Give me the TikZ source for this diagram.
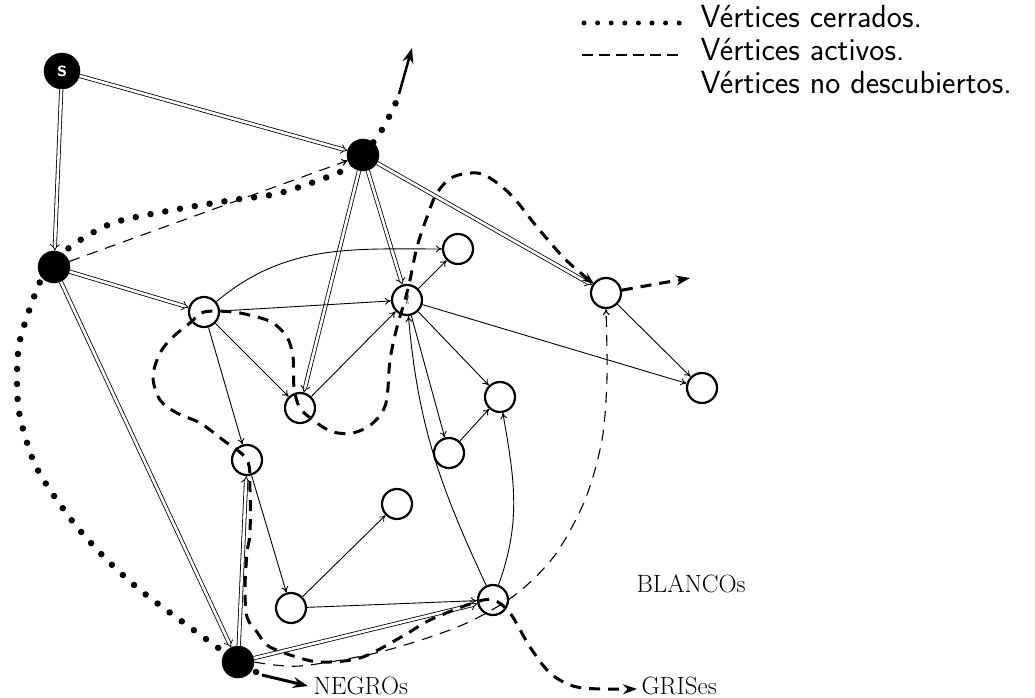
\documentclass[tikz,border=0pt]{standalone}
\usetikzlibrary{arrows.meta}
\begin{document}
\begin{tikzpicture}[x=1pt,y=1pt,
  wnode/.style={circle, draw, line width=2.2pt, minimum size=30pt, inner sep=0pt},
  bnode/.style={circle, fill=black, draw, line width=0.5pt, minimum size=32pt, inner sep=0pt},
  dbl/.style={double, double distance=2.6pt, line width=0.8pt, -{Implies}},
  arr/.style={line width=0.9pt, -{To[length=6pt,width=7pt]}},
  activeline/.style={line width=1.1pt, dash pattern=on 11pt off 8pt},
  grayline/.style={line width=3pt, dash pattern=on 11pt off 8pt},
  closedline/.style={line width=6.5pt, line cap=round, dash pattern=on 0pt off 15pt},
  legdot/.style={line width=5pt, line cap=round, dash pattern=on 0pt off 13.6pt},
  legdash/.style={line width=2.6pt, dash pattern=on 11pt off 6pt},
  bigtip/.style={-{Stealth[length=15pt,width=11pt]}},
  legtext/.style={anchor=base west, font=\sffamily\fontsize{32}{38}\selectfont},
  lbltext/.style={anchor=base west, font=\rmfamily\fontsize{25}{30}\selectfont}
]
\useasboundingbox (0,0) rectangle (1035,698);

% nodes
\node[bnode, minimum size=36pt] (s) at (62,627) {\textcolor{white}{\sffamily\bfseries\fontsize{22}{24}\selectfont s}};
\node[bnode] (A) at (363,543) {};
\node[bnode] (B) at (54,431) {};
\node[bnode] (C) at (238,36) {};
\node[wnode] (n1) at (204,386) {};
\node[wnode] (t) at (407,398) {\fontsize{14}{14}\selectfont\itshape t};
\node[wnode] (n3) at (458,449) {};
\node[wnode] (n4) at (300,290) {};
\node[wnode] (n5) at (247,238) {};
\node[wnode] (n6) at (606,405) {};
\node[wnode] (n7) at (702,310) {};
\node[wnode] (n8) at (500,301) {};
\node[wnode] (n9) at (449,245) {};
\node[wnode] (n10) at (397,194) {};
\node[wnode] (n11) at (291,90) {};
\node[wnode] (n12) at (493,98) {};

% tree edges (double)
\draw[dbl] (s) -- (A);
\draw[dbl] (s) -- (B);
\draw[dbl] (B) -- (n1);
\draw[dbl] (B) -- (C);
\draw[dbl] (A) -- (n4);
\draw[dbl] (A) -- (t);
\draw[dbl] (A) -- (n6);
\draw[dbl] (C) -- (n5);
\draw[dbl] (C) -- (n12);

% single edges
\draw[arr] (n1) to[out=40,in=180] (n3);
\draw[arr] (n1) -- (t);
\draw[arr] (n1) -- (n4);
\draw[arr] (n1) -- (n5);
\draw[arr] (n4) -- (t);
\draw[arr] (t) -- (n3);
\draw[arr] (t) -- (n7);
\draw[arr] (t) -- (n8);
\draw[arr] (t) -- (n9);
\draw[arr] (n9) -- (n8);
\draw[arr] (n6) -- (n7);
\draw[arr] (n11) -- (n10);
\draw[arr] (n11) -- (n12);
\draw[arr] (n5) -- (n11);
\draw[arr] (n12) to[out=70,in=-80] (n8);
\draw[arr] (n12) to[out=115,in=-85] (t);

% active (thin dashed) edges
\draw[activeline, -{To[length=6pt,width=7pt]}] (B) -- (A);
\draw[activeline, -{To[length=6pt,width=7pt]}] plot[smooth] coordinates {(C.east) (300,32) (380,46) (460,72) (515,103) (555,143) (585,198) (602,258) (607,320) (n6.south)};

% closed boundary (thick dots)
\draw[closedline] plot[smooth, tension=0.5] coordinates {(256,26) (238,36) (217,51) (180,78) (140,108) (107,138) (77,171) (50,208) (33,238) (20,281) (17,315) (20,358) (40,416) (54,431) (70,451) (113,475) (173,488) (233,498) (280,505) (340,526) (363,543) (375,558) (383,570) (390,583) (397,598)};
\draw[line width=2.5pt, bigtip] (399,604) -- (412,650);
\draw[line width=3pt, bigtip] (262,23) -- (308,12);

% gray frontier (thick dashed)
\draw[grayline, {Stealth[length=12pt,width=9pt]}-{Stealth[length=14pt,width=10pt]}] plot[smooth, tension=0.55] coordinates {(594,414) (583,423) (563,441) (537,471) (513,501) (493,518) (477,525) (453,521) (437,505) (427,481) (417,451) (410,418) (405,398) (397,371) (390,338) (386,295) (373,275) (353,265) (333,266) (317,275) (300,290) (294,311) (293,341) (287,361) (273,375) (257,381) (233,386) (204,386) (190,375) (173,361) (160,345) (153,321) (160,298) (177,285) (200,275) (223,258) (247,238) (250,208) (250,165) (247,145) (245,110) (247,81) (257,66) (270,51) (307,38) (330,36) (363,41) (403,62) (430,78) (473,95) (493,98) (510,85) (530,51) (550,25) (573,12) (600,9) (637,9)};
\draw[grayline, -{Stealth[length=14pt,width=10pt]}] (n6) -- (690,420);

% labels
\node[lbltext] (negros) at (310,3) {NEGROs};
\node[lbltext] (grises) at (638,3) {GRISes};
\node[lbltext] (blancos) at (633,105) {BLANCOs};

% legend
\coordinate (d1) at (584,675);
\coordinate (d2) at (680,675);
\draw[legdot] (d1) -- (d2);
\coordinate (e1) at (582,643);
\coordinate (e2) at (682,643);
\draw[legdash] (e1) -- (e2);
\node[legtext] (l1) at (697,670) {Vértices cerrados.};
\node[legtext] (l2) at (697,637) {Vértices activos.};
\node[legtext] (l3) at (697,604) {Vértices no descubiertos.};
\end{tikzpicture}
\end{document}
